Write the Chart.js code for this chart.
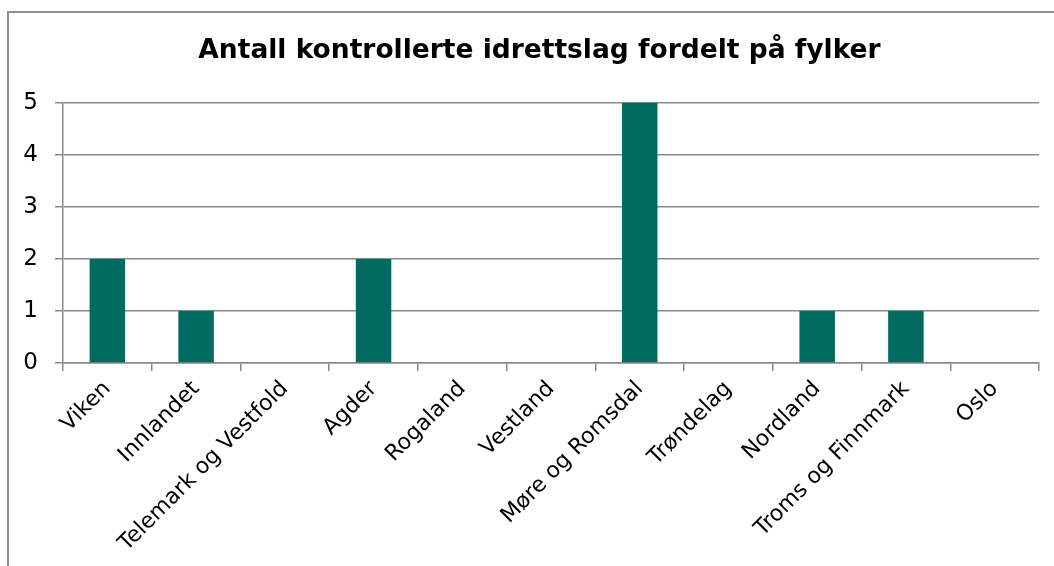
<!DOCTYPE html>
<html>
<head>
<meta charset="utf-8">
<script src="https://cdn.jsdelivr.net/npm/chart.js@4/dist/chart.umd.min.js"></script>
<style>
  html, body { margin: 0; padding: 0; background: #fff; overflow: hidden; }
  #wrap { position: relative; width: 1054px; height: 566px; }
  #frame { position: absolute; left: 7px; top: 11px; width: 1100px; height: 600px; border: 2px solid #8e8e8e; box-sizing: border-box; }
  canvas { position: absolute; left: 0; top: 0; }
</style>
</head>
<body>
<div id="wrap">
  <div id="frame"></div>
  <canvas id="c" width="1054" height="566"></canvas>
</div>
<script>
const title = "Antall kontrollerte idrettslag fordelt på fylker";
const categories = ["Viken", "Innlandet", "Telemark og Vestfold", "Agder", "Rogaland", "Vestland", "Møre og Romsdal", "Trøndelag", "Nordland", "Troms og Finnmark", "Oslo"];
const values = [2, 1, 0, 2, 0, 0, 5, 0, 1, 1, 0];
const yTicks = [0, 1, 2, 3, 4, 5];

const FONT = "'DejaVu Sans', Verdana, sans-serif";
const gridColor = '#898989';

const shiftTitle = {
  id: 'shiftTitle',
  afterLayout(chart) {
    const t = chart.titleBlock;
    if (t) { t.left = 25; t.right = 1054; t.width = t.right - t.left; }
  }
};

new Chart(document.getElementById('c'), {
  type: 'bar',
  data: {
    labels: categories,
    datasets: [{
      data: values,
      backgroundColor: '#006b60',
      borderWidth: 0,
      barPercentage: 0.4,
      categoryPercentage: 1.0
    }]
  },
  plugins: [shiftTitle],
  options: {
    responsive: false,
    animation: false,
    layout: { padding: { left: 0, right: 15, top: 0, bottom: 0 } },
    plugins: {
      legend: { display: false },
      tooltip: { enabled: false },
      title: {
        display: true,
        text: title,
        color: '#000',
        font: { family: FONT, size: 26.5, weight: 'bold', lineHeight: 1.2 },
        padding: { top: 35, bottom: 36 }
      }
    },
    scales: {
      x: {
        offset: true,
        grid: { display: true, offset: true, drawOnChartArea: false, drawTicks: true, tickLength: 8, color: gridColor, lineWidth: 1.5 },
        border: { display: true, color: gridColor, width: 1.5 },
        ticks: { color: '#000', font: { family: FONT, size: 22 }, minRotation: 45, maxRotation: 45, autoSkip: false, padding: 5 },
        afterFit: (s) => { s.height = 203; }
      },
      y: {
        min: 0, max: 5,
        afterBuildTicks: (s) => { s.ticks = yTicks.map(v => ({ value: v })); },
        grid: { color: gridColor, lineWidth: 1.5, drawTicks: true, tickLength: 8 },
        border: { display: true, color: gridColor, width: 1.5 },
        ticks: { color: '#000', font: { family: FONT, size: 23 }, padding: 17 },
        afterFit: (s) => { s.width = 63; }
      }
    }
  }
});
</script>
</body>
</html>
